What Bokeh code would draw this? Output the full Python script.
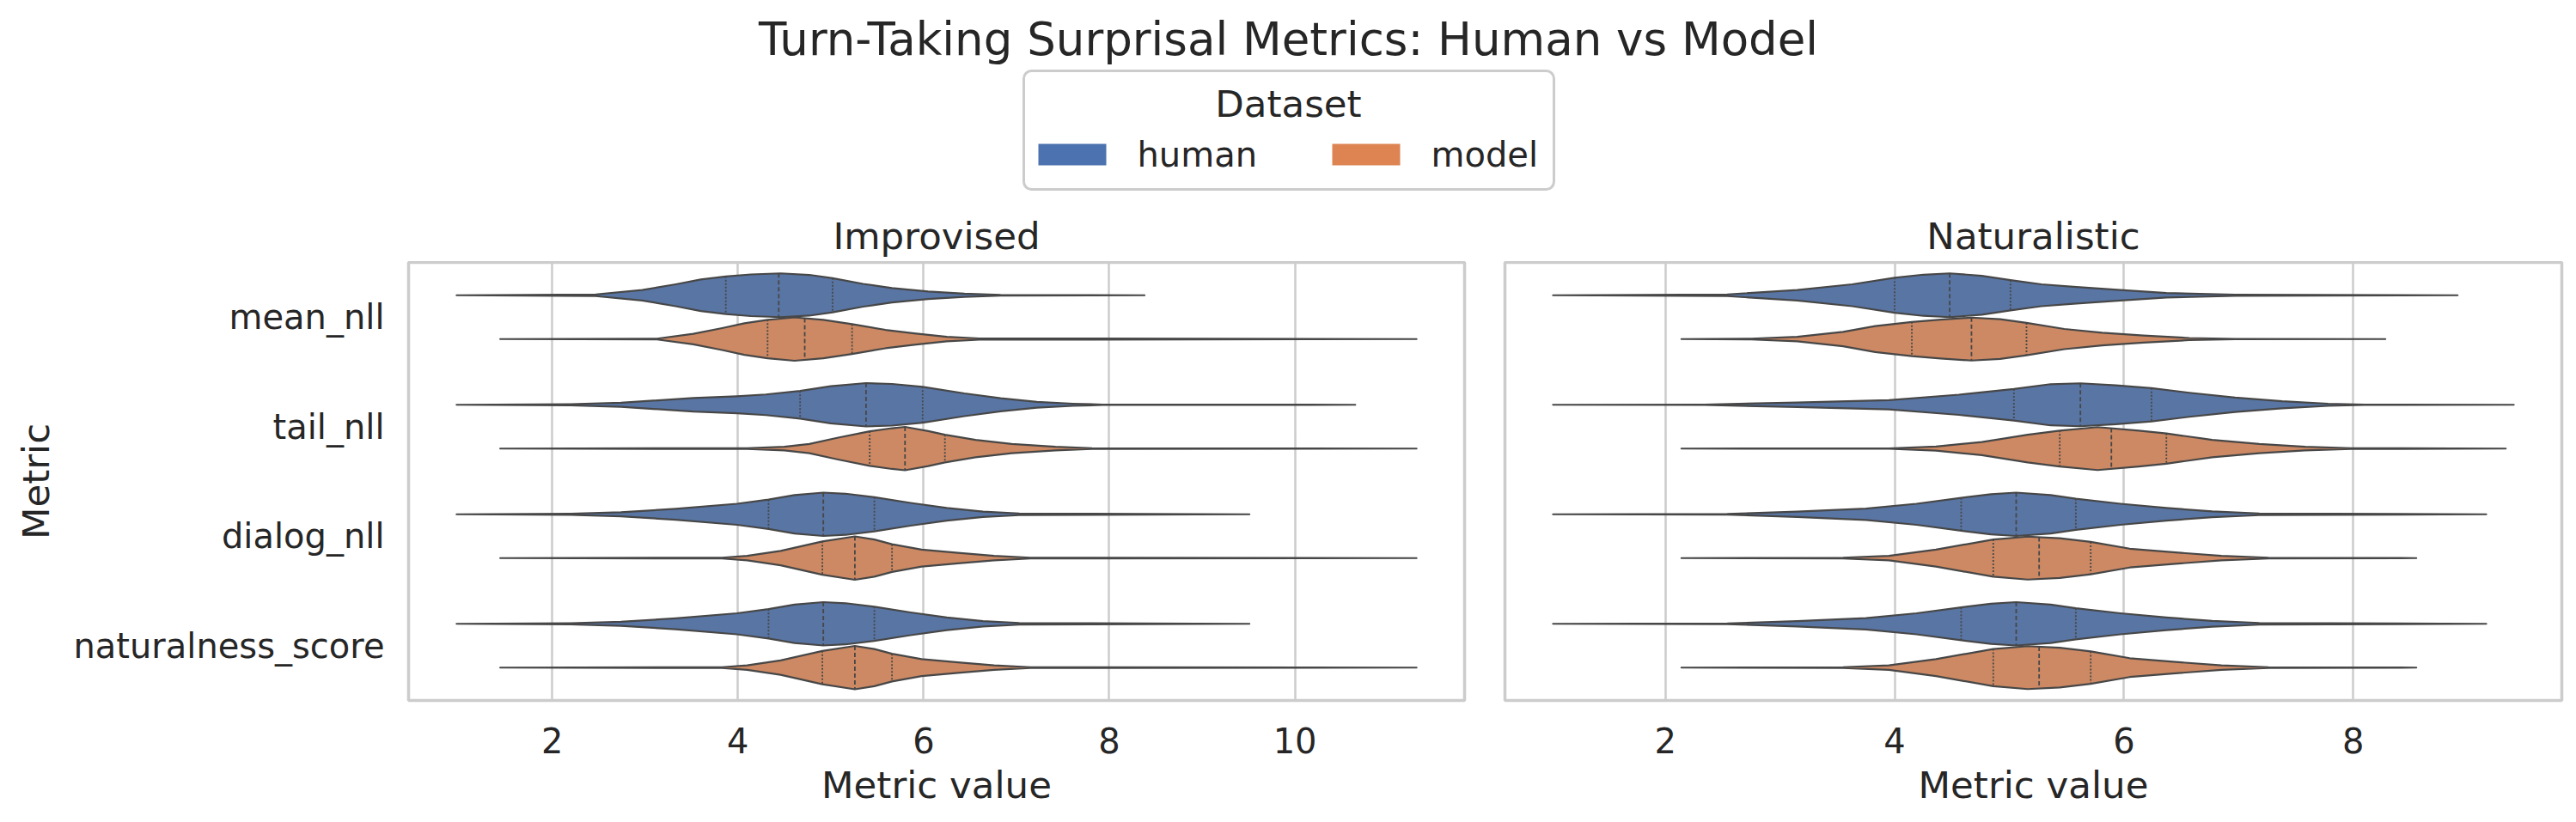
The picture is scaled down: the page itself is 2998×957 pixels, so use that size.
import numpy as np
from bokeh.plotting import figure
from bokeh.layouts import column, row
from bokeh.models import Range1d, FixedTicker
from bokeh.core.properties import value
from bokeh.embed import file_html
from bokeh.resources import INLINE

# ---------------- data ----------------
title_text = "Turn-Taking Surprisal Metrics: Human vs Model"
panels = ["Improvised", "Naturalistic"]
metrics = ["mean_nll", "tail_nll", "dialog_nll", "naturalness_score"]
datasets = ["human", "model"]
legend_title = "Dataset"
x_label = "Metric value"
y_label = "Metric"
imp_ticks = [2, 4, 6, 8, 10]
nat_ticks = [2, 4, 6, 8]

# Improvised: extremes and quartiles per metric
imp_human_min = [0.97, 0.97, 0.97, 0.97]
imp_human_max = [8.38, 10.65, 9.51, 9.51]
imp_human_q1 = [3.87, 4.67, 4.33, 4.33]
imp_human_med = [4.44, 5.38, 4.92, 4.92]
imp_human_q3 = [5.02, 5.99, 5.47, 5.47]
imp_model_min = [1.44, 1.44, 1.44, 1.44]
imp_model_max = [11.31, 11.31, 11.31, 11.31]
imp_model_q1 = [4.32, 5.42, 4.91, 4.91]
imp_model_med = [4.72, 5.80, 5.26, 5.26]
imp_model_q3 = [5.23, 6.23, 5.66, 5.66]

# Improvised: density outline (value, relative half-width)
imp_human_px = [
    [2.47, 2.97, 3.33, 3.60, 3.87, 4.14, 4.46, 4.77, 5.02, 5.35, 5.66, 6.05, 6.44, 6.83],
    [2.20, 2.74, 3.52, 3.99, 4.30, 4.67, 5.00, 5.38, 5.66, 5.99, 6.44, 6.83, 7.22, 7.61, 7.93],
    [2.20, 2.74, 3.33, 3.99, 4.33, 4.61, 4.92, 5.16, 5.47, 5.86, 6.25, 6.64, 7.03],
    [2.20, 2.74, 3.33, 3.99, 4.33, 4.61, 4.92, 5.16, 5.47, 5.86, 6.25, 6.64, 7.03],
]
imp_human_pw = [
    [0.04, 0.24, 0.50, 0.72, 0.86, 0.95, 1.00, 0.93, 0.78, 0.52, 0.33, 0.17, 0.07, 0.02],
    [0.03, 0.09, 0.31, 0.39, 0.47, 0.63, 0.85, 0.99, 0.95, 0.82, 0.52, 0.30, 0.13, 0.05, 0.01],
    [0.03, 0.09, 0.25, 0.48, 0.67, 0.88, 0.99, 0.94, 0.78, 0.52, 0.29, 0.12, 0.04],
    [0.03, 0.09, 0.25, 0.48, 0.67, 0.88, 0.99, 0.94, 0.78, 0.52, 0.29, 0.12, 0.04],
]
imp_model_px = [
    [3.13, 3.52, 3.83, 4.07, 4.32, 4.61, 4.92, 5.23, 5.59, 5.90, 6.25, 6.60],
    [4.10, 4.50, 4.77, 5.08, 5.42, 5.66, 5.80, 6.05, 6.23, 6.56, 6.95, 7.42, 7.81],
    [3.83, 4.10, 4.46, 4.91, 5.26, 5.47, 5.66, 5.98, 6.37, 6.76, 7.15],
    [3.83, 4.10, 4.46, 4.91, 5.26, 5.47, 5.66, 5.98, 6.37, 6.76, 7.15],
]
imp_model_pw = [
    [0.02, 0.24, 0.50, 0.72, 0.88, 0.99, 0.88, 0.68, 0.42, 0.26, 0.10, 0.03],
    [0.02, 0.08, 0.21, 0.50, 0.79, 0.93, 0.99, 0.80, 0.63, 0.40, 0.21, 0.08, 0.02],
    [0.02, 0.10, 0.33, 0.76, 0.99, 0.85, 0.63, 0.39, 0.24, 0.10, 0.02],
    [0.02, 0.10, 0.33, 0.76, 0.99, 0.85, 0.63, 0.39, 0.24, 0.10, 0.02],
]

# Naturalistic: extremes and quartiles per metric
nat_human_min = [1.02, 1.02, 1.02, 1.02]
nat_human_max = [8.91, 9.40, 9.16, 9.16]
nat_human_q1 = [4.00, 5.04, 4.58, 4.58]
nat_human_med = [4.48, 5.62, 5.06, 5.06]
nat_human_q3 = [5.01, 6.24, 5.58, 5.58]
nat_model_min = [2.14, 2.14, 2.14, 2.14]
nat_model_max = [8.28, 9.33, 8.55, 8.55]
nat_model_q1 = [4.15, 5.44, 4.86, 4.86]
nat_model_med = [4.67, 5.89, 5.26, 5.26]
nat_model_q3 = [5.15, 6.37, 5.71, 5.71]

nat_human_px = [
    [2.54, 3.15, 3.63, 4.00, 4.25, 4.48, 4.76, 5.01, 5.28, 5.56, 5.97, 6.37, 6.97],
    [2.34, 3.15, 3.95, 4.56, 5.04, 5.36, 5.62, 5.93, 6.24, 6.57, 6.97, 7.38, 7.78, 8.10],
    [2.54, 3.15, 3.75, 4.19, 4.58, 4.84, 5.06, 5.36, 5.58, 5.97, 6.37, 6.77, 7.18],
    [2.54, 3.15, 3.75, 4.19, 4.58, 4.84, 5.06, 5.36, 5.58, 5.97, 6.37, 6.77, 7.18],
]
nat_human_pw = [
    [0.04, 0.24, 0.50, 0.80, 0.94, 1.00, 0.89, 0.69, 0.50, 0.39, 0.24, 0.10, 0.03],
    [0.01, 0.10, 0.21, 0.46, 0.72, 0.94, 0.98, 0.89, 0.76, 0.55, 0.33, 0.16, 0.05, 0.01],
    [0.02, 0.12, 0.26, 0.48, 0.75, 0.92, 0.99, 0.88, 0.71, 0.48, 0.29, 0.13, 0.04],
    [0.02, 0.12, 0.26, 0.48, 0.75, 0.92, 0.99, 0.88, 0.71, 0.48, 0.29, 0.13, 0.04],
]
nat_model_px = [
    [2.75, 3.15, 3.55, 3.83, 4.15, 4.40, 4.67, 4.92, 5.15, 5.48, 5.81, 6.17, 6.57, 6.97],
    [3.95, 4.36, 4.76, 5.16, 5.44, 5.77, 6.13, 6.37, 6.77, 7.18, 7.58, 7.98],
    [3.55, 3.95, 4.36, 4.86, 5.16, 5.44, 5.71, 6.05, 6.45, 6.85, 7.26],
    [3.55, 3.95, 4.36, 4.86, 5.16, 5.44, 5.71, 6.05, 6.45, 6.85, 7.26],
]
nat_model_pw = [
    [0.02, 0.10, 0.33, 0.59, 0.78, 0.89, 0.98, 0.91, 0.74, 0.46, 0.29, 0.16, 0.05, 0.01],
    [0.01, 0.09, 0.30, 0.63, 0.82, 0.98, 0.82, 0.69, 0.40, 0.21, 0.08, 0.02],
    [0.02, 0.10, 0.39, 0.85, 0.98, 0.91, 0.74, 0.43, 0.26, 0.10, 0.02],
    [0.02, 0.10, 0.39, 0.85, 0.98, 0.91, 0.74, 0.43, 0.26, 0.10, 0.02],
]

# ---------------- styling ----------------
FONT = value("DejaVu Sans")
TXT = "#262626"
GRID = "#cccccc"
EDGE = "#474747"
legend_colors = ["#4c72b0", "#dd8452"]
violin_colors = ["#5875a4", "#cc8963"]
DODGE = 0.2
HALF = 0.2

TOP_H = 304
PANEL_H = 957 - TOP_H
FRAME_TOP = 305
FRAME_BOTTOM = 815
LEFT_W = 1728
RIGHT_W = 2998 - LEFT_W
TY = -15  # baseline correction for header texts

panel_stats = {
    "Improvised": {
        "human": dict(mn=imp_human_min, mx=imp_human_max, q1=imp_human_q1, med=imp_human_med,
                      q3=imp_human_q3, px=imp_human_px, pw=imp_human_pw),
        "model": dict(mn=imp_model_min, mx=imp_model_max, q1=imp_model_q1, med=imp_model_med,
                      q3=imp_model_q3, px=imp_model_px, pw=imp_model_pw),
    },
    "Naturalistic": {
        "human": dict(mn=nat_human_min, mx=nat_human_max, q1=nat_human_q1, med=nat_human_med,
                      q3=nat_human_q3, px=nat_human_px, pw=nat_human_pw),
        "model": dict(mn=nat_model_min, mx=nat_model_max, q1=nat_model_q1, med=nat_model_med,
                      q3=nat_model_q3, px=nat_model_px, pw=nat_model_pw),
    },
}


def make_panel(name, ticks, width, mb_left, mb_right, show_y):
    st = panel_stats[name]
    lo = min(min(st[d]["mn"]) for d in datasets)
    hi = max(max(st[d]["mx"]) for d in datasets)
    pad = 0.05 * (hi - lo)
    p = figure(width=width, height=PANEL_H,
               x_range=Range1d(lo - pad, hi + pad), y_range=Range1d(3.5, -0.5),
               output_backend="svg", toolbar_location=None,
               y_axis_location="left" if show_y else None,
               min_border_left=mb_left, min_border_right=mb_right,
               min_border_top=FRAME_TOP - TOP_H,
               min_border_bottom=957 - FRAME_BOTTOM)
    p.background_fill_color = "white"
    p.border_fill_color = "white"
    p.outline_line_color = GRID
    p.outline_line_width = 3.5
    p.ygrid.visible = False
    p.xgrid.grid_line_color = GRID
    p.xgrid.grid_line_width = 2.5

    xa = p.xaxis[0]
    xa.ticker = FixedTicker(ticks=ticks)
    xa.axis_line_color = None
    xa.major_tick_line_color = None
    xa.minor_tick_line_color = None
    xa.major_label_text_font = "DejaVu Sans"
    xa.major_label_text_font_size = "40px"
    xa.major_label_text_color = TXT
    xa.major_label_standoff = 25
    xa.axis_label = x_label
    xa.axis_label_text_font = "DejaVu Sans"
    xa.axis_label_text_font_size = "43.5px"
    xa.axis_label_text_font_style = "normal"
    xa.axis_label_text_color = TXT
    xa.axis_label_standoff = 9

    if show_y:
        ya = p.yaxis[0]
        ya.ticker = FixedTicker(ticks=list(range(len(metrics))))
        ya.major_label_overrides = {i: m for i, m in enumerate(metrics)}
        ya.axis_line_color = None
        ya.major_tick_line_color = None
        ya.minor_tick_line_color = None
        ya.major_label_text_font = "DejaVu Sans"
        ya.major_label_text_font_size = "40px"
        ya.major_label_text_color = TXT
        ya.major_label_standoff = 22
        ya.axis_label = y_label
        ya.axis_label_text_font = "DejaVu Sans"
        ya.axis_label_text_font_size = "43.5px"
        ya.axis_label_text_font_style = "normal"
        ya.axis_label_text_color = TXT
        ya.axis_label_standoff = 15

    for d_i, ds in enumerate(datasets):
        s = st[ds]
        xs, ys = [], []
        qx0, qy0, qy1 = [], [], []
        mx0, my0, my1 = [], [], []
        for m_i in range(len(metrics)):
            yc = m_i + (-DODGE if d_i == 0 else DODGE)
            px = s["px"][m_i]
            pw = s["pw"][m_i]
            top = [yc - HALF * w for w in pw]
            bot = [yc + HALF * w for w in pw]
            xs.append([s["mn"][m_i]] + px + [s["mx"][m_i]] + px[::-1])
            ys.append([yc] + top + [yc] + bot[::-1])
            for q in (s["q1"][m_i], s["q3"][m_i]):
                h = HALF * float(np.interp(q, px, pw))
                qx0.append(q); qy0.append(yc - h); qy1.append(yc + h)
            q = s["med"][m_i]
            h = HALF * float(np.interp(q, px, pw))
            mx0.append(q); my0.append(yc - h); my1.append(yc + h)
        p.patches(xs, ys, fill_color=violin_colors[d_i], line_color=EDGE,
                  line_width=2.2, line_join="round")
        p.segment(x0=qx0, y0=qy0, x1=qx0, y1=qy1, line_color=EDGE,
                  line_width=1.8, line_dash="2 2")
        p.segment(x0=mx0, y0=my0, x1=mx0, y1=my1, line_color=EDGE,
                  line_width=1.8, line_dash="5 3")
    return p


left = make_panel("Improvised", imp_ticks, LEFT_W, 475, 24, True)
right = make_panel("Naturalistic", nat_ticks, RIGHT_W, 23, 17, False)

# ---------------- header: suptitle, legend, panel titles ----------------
top = figure(width=2998, height=TOP_H, x_range=Range1d(0, 2998), y_range=Range1d(TOP_H, 0),
             output_backend="svg", toolbar_location=None, x_axis_type=None, y_axis_type=None,
             min_border=0)
top.grid.visible = False
top.outline_line_color = None
top.background_fill_color = "white"
top.border_fill_color = "white"

CX = 1499
top.text(x=[CX], y=[60 + TY], text=[title_text], text_font=FONT, text_font_size="53px",
         text_align="center", text_baseline="alphabetic", text_color=TXT)

# legend box
top.quad(left=[1191], right=[1808], top=[82], bottom=[220], fill_color="white",
         line_color=GRID, line_width=3, border_radius=9)
top.text(x=[CX], y=[135 + TY], text=[legend_title], text_font=FONT, text_font_size="43.5px",
         text_align="center", text_baseline="alphabetic", text_color=TXT)
patch_left = [1208, 1550]
top.quad(left=patch_left, right=[x + 79 for x in patch_left], top=[167, 167],
         bottom=[192, 192], fill_color=legend_colors, line_color=None)
top.text(x=[x + 115 for x in patch_left], y=[194 + TY, 194 + TY], text=datasets, text_font=FONT,
         text_font_size="40px", text_align="left", text_baseline="alphabetic", text_color=TXT)

# panel titles centred over each frame
frame_centres = [(475 + 1704) / 2, LEFT_W + (23 + RIGHT_W - 17) / 2]
top.text(x=frame_centres, y=[289 + TY, 289 + TY], text=panels, text_font=FONT,
         text_font_size="43.5px", text_align="center", text_baseline="alphabetic",
         text_color=TXT)

layout = column(top, row(left, right, spacing=0), spacing=0)
open("out.html", "w").write(file_html(layout, INLINE))
